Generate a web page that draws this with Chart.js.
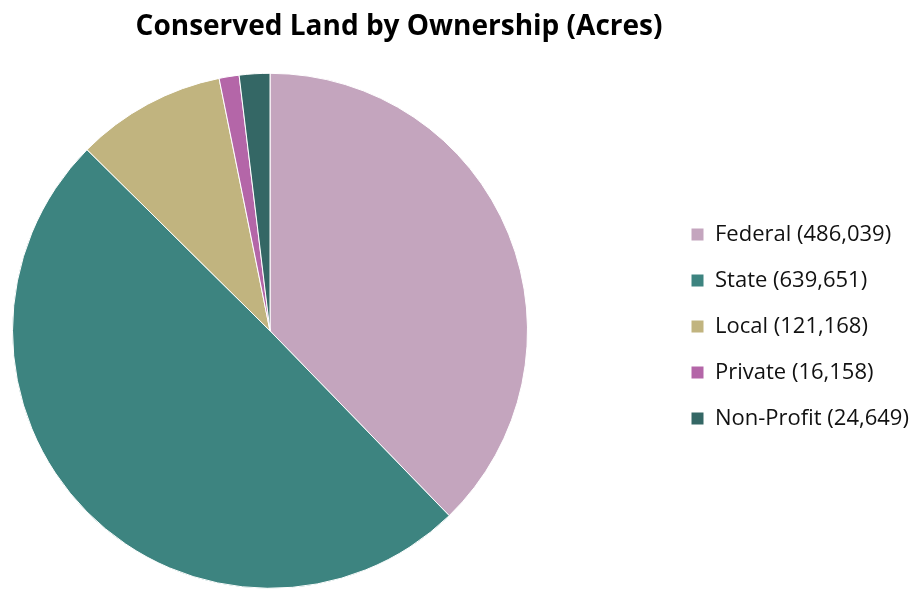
<!DOCTYPE html>
<html>
<head>
<meta charset="utf-8">
<title>Conserved Land by Ownership</title>
<script src="https://cdn.jsdelivr.net/npm/chart.js@4/dist/chart.umd.min.js"></script>
<style>
    body { margin: 0; background: #fff; }
    #wrap { width: 916px; height: 589px; position: relative; }
</style>
</head>
<body>
<div id="wrap"><canvas id="landChart"></canvas></div>
<script>
const owners = ["Federal", "State", "Local", "Private", "Non-Profit"];
const acres = [486039, 639651, 121168, 16158, 24649];
const sliceColors = ["#c4a5be", "#3d8480", "#c1b47f", "#b466a8", "#346765"];

// legend text like "Federal (486,039)"
const legendText = owners.map((name, i) => name + " (" + acres[i].toLocaleString("en-US") + ")");

// widen the legend box so the pie keeps to the left, then nudge legend + title
const placeBoxes = {
    id: "placeBoxes",
    beforeInit(chart) {
        const fit = chart.legend.fit;
        chart.legend.fit = function () {
            fit.bind(chart.legend)();
            this.width = 388;
        };
    },
    afterLayout(chart) {
        const lg = chart.legend;
        lg.left += 139;
        lg.right += 139;
        lg.top += 32;
        lg.bottom += 32;
        const tb = chart.titleBlock;
        tb.left -= 65;
        tb.right -= 65;
    }
};

new Chart("landChart", {
    type: "pie",
    data: {
        labels: legendText,
        datasets: [{
            data: acres,
            backgroundColor: sliceColors,
            borderColor: "#ffffff",
            borderWidth: 1
        }]
    },
    plugins: [placeBoxes],
    options: {
        responsive: true,
        maintainAspectRatio: false,
        animation: false,
        layout: {
            padding: { left: 12, right: 0, top: 0, bottom: 0 }
        },
        plugins: {
            title: {
                display: true,
                text: "Conserved Land by Ownership (Acres)",
                color: "#000",
                font: { family: "'Open Sans'", size: 28, weight: "bold" },
                padding: { top: 10, bottom: 29 }
            },
            legend: {
                position: "right",
                labels: {
                    color: "#111",
                    font: { family: "'Open Sans'", size: 22 },
                    boxWidth: 13,
                    boxHeight: 13,
                    padding: 24
                }
            },
            tooltip: { enabled: false }
        }
    }
});
</script>
</body>
</html>
